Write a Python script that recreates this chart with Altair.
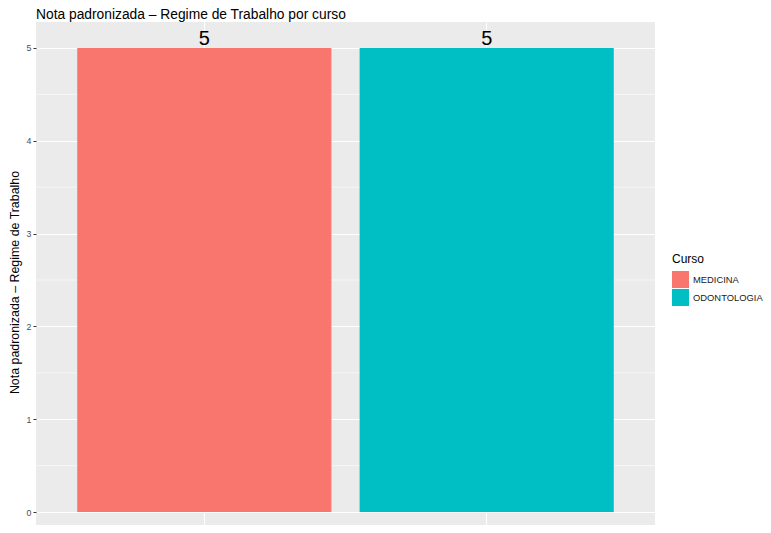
import altair as alt
import pandas as pd

cursos = ["MEDICINA", "ODONTOLOGIA"]
notas = [5, 5]
cores = ["#F8766D", "#00BFC4"]
minor_breaks = [0.5, 1.5, 2.5, 3.5, 4.5]

df = pd.DataFrame({"Curso": cursos, "Nota": notas})
df_minor = pd.DataFrame({"y": minor_breaks})

FONT = "Liberation Sans"

x_enc = alt.X(
    "Curso:N",
    scale=alt.Scale(paddingInner=0.1, paddingOuter=0.146),
    axis=alt.Axis(labels=False, ticks=False, domain=False, title=None,
                  grid=True, gridColor="white", gridWidth=1.1, bandPosition=0.5),
)
y_scale = alt.Scale(domain=[-0.14, 5.28], nice=False, zero=False)

minor = alt.Chart(df_minor).mark_rule(color="white", strokeWidth=0.55).encode(
    y=alt.Y("y:Q", scale=y_scale)
)

bars = alt.Chart(df).mark_bar().encode(
    x=x_enc,
    y=alt.Y(
        "Nota:Q",
        scale=y_scale,
        axis=alt.Axis(
            values=[0, 1, 2, 3, 4, 5], format="d",
            title="Nota padronizada – Regime de Trabalho",
            titleFontSize=12.4, titleFont=FONT, titleFontWeight="normal",
            titleColor="black", titleX=-15, titleY=260, titleAngle=-90,
            titleBaseline="bottom",
            labelFontSize=8.8, labelFont=FONT, labelColor="#4D4D4D",
            labelPadding=2, tickSize=3, tickColor="#333333", domain=False,
            grid=True, gridColor="white", gridWidth=1.1,
        ),
    ),
    y2=alt.datum(0),
    color=alt.Color(
        "Curso:N",
        scale=alt.Scale(domain=cursos, range=cores),
        legend=alt.Legend(
            title="Curso", titleFontSize=12, titleFont=FONT, titleColor="black",
            titleFontWeight="normal", titlePadding=5,
            labelFontSize=9.4, labelFont=FONT, labelColor="#1A1A1A",
            symbolType="square", symbolSize=289, symbolStrokeWidth=0,
            symbolOpacity=1, rowPadding=1, labelOffset=4, labelLimit=200,
            orient="none", legendX=636, legendY=232,
        ),
    ),
)

labels = alt.Chart(df).mark_text(
    baseline="bottom", dy=1, fontSize=20, font=FONT, color="black"
).encode(
    x=alt.X("Curso:N"),
    y=alt.Y("Nota:Q", scale=y_scale),
    text=alt.Text("Nota:Q", format="d"),
)

chart = (
    alt.layer(minor, bars, labels)
    .properties(
        width=619,
        height=503,
        title=alt.TitleParams(
            "Nota padronizada – Regime de Trabalho por curso",
            anchor="start", font=FONT, fontSize=13.8, fontWeight="normal",
            color="black", offset=0, frame="group",
        ),
        padding={"left": 28, "top": 14, "right": 108, "bottom": 0},
        autosize=alt.AutoSizeParams(type="none"),
    )
    .configure_view(fill="#EBEBEB", stroke=None)
)

chart.save("out.html", embed_options={"renderer": "svg", "actions": False})
